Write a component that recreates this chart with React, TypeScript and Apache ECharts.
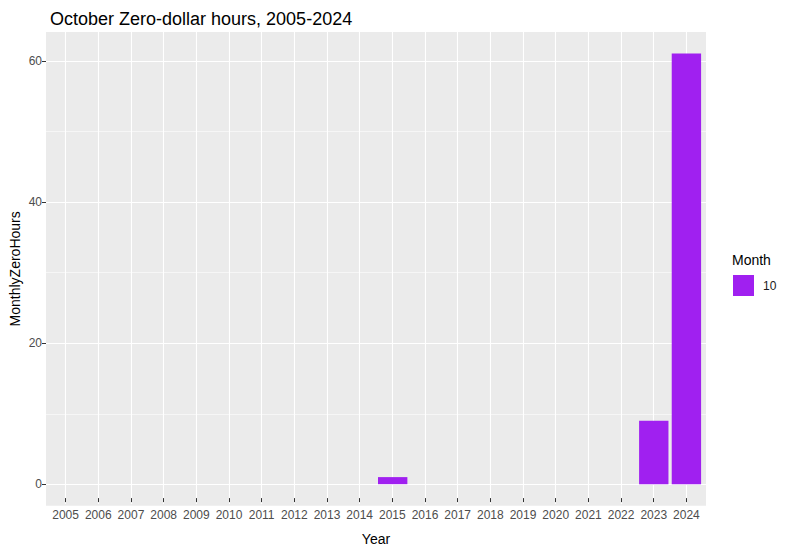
import React, { useEffect, useRef } from "react";
import * as echarts from "echarts";

const years = ["2005","2006","2007","2008","2009","2010","2011","2012","2013","2014","2015","2016","2017","2018","2019","2020","2021","2022","2023","2024"];
const zeroHours = [0,0,0,0,0,0,0,0,0,0,1,0,0,0,0,0,0,0,9,61];
const monthName = "10";
const yTicks = [0, 20, 40, 60];

const PANEL = { left: 46, right: 81, top: 32, bottom: 45.3 };
const UNIT = (787 - PANEL.left - PANEL.right) / 20.2;
const TICK_EXT = 6;
const PURPLE = "#A020F0";
const FONT = "'Liberation Sans', Arial, sans-serif";

export default function App() {
  const ref = useRef<HTMLDivElement>(null);
  useEffect(() => {
    const chart = echarts.init(ref.current!, null, { renderer: "svg" });
    const hidden = { show: false };
    const g2Height = 551 - PANEL.top - (PANEL.bottom - TICK_EXT);
    chart.setOption({
      animation: false,
      textStyle: { fontFamily: FONT },
      title: [
        { text: "October Zero-dollar hours, 2005-2024", left: 45, top: 5,
          textStyle: { fontSize: 18, fontWeight: "normal", color: "#000", fontFamily: FONT } },
        { text: "Month", left: 727, top: 248,
          textStyle: { fontSize: 14, fontWeight: "normal", color: "#000", fontFamily: FONT } },
      ],
      legend: {
        left: 728, top: 270, itemWidth: 21, itemHeight: 21, icon: "rect",
        data: [monthName],
        textStyle: { fontSize: 12, color: "#1a1a1a", fontFamily: FONT, padding: [0, 0, 0, 4] },
      },
      grid: [
        { ...PANEL, show: true, backgroundColor: "#EBEBEB", borderWidth: 0, z: -1 },
        { left: PANEL.left, right: PANEL.right, top: 61.0, bottom: 551 - 484.3 },
        { left: PANEL.left + 0.6 * UNIT, right: PANEL.right + 0.6 * UNIT, top: PANEL.top, bottom: PANEL.bottom - TICK_EXT },
        { left: PANEL.left + 0.1 * UNIT, right: PANEL.right + 0.1 * UNIT, top: PANEL.top, bottom: PANEL.bottom },
      ],
      xAxis: [
        { type: "value", gridIndex: 0, ...hidden },
        { type: "value", gridIndex: 1, ...hidden },
        { type: "category", gridIndex: 2, data: years, boundaryGap: false,
          name: "Year", nameLocation: "middle", nameGap: 28,
          nameTextStyle: { fontSize: 14, color: "#000", fontFamily: FONT },
          axisLine: { show: false, onZero: true },
          axisTick: { show: true, interval: 0, length: 4, lineStyle: { color: "#333333", width: 1 } },
          axisLabel: { interval: 0, fontSize: 12, color: "#4D4D4D", margin: 5, fontFamily: FONT },
          splitLine: { show: true, interval: 0, lineStyle: { color: "#FFFFFF", width: 1.1 } } },
        { type: "category", gridIndex: 3, data: years, boundaryGap: true, ...hidden },
      ],
      yAxis: [
        { type: "value", gridIndex: 0, ...hidden },
        { type: "value", gridIndex: 1, min: 0, max: 60, interval: 20,
          axisLine: { show: false },
          axisTick: { show: true, length: 4, lineStyle: { color: "#333333", width: 1 } },
          axisLabel: { fontSize: 12, color: "#4D4D4D", margin: 4, fontFamily: FONT,
            formatter: (v: number) => (yTicks.includes(v) ? String(v) : "") },
          splitLine: { show: true, lineStyle: { color: "#FFFFFF", width: 1.1 } },
          minorTick: { show: false, splitNumber: 2 },
          minorSplitLine: { show: true, lineStyle: { color: "#FFFFFF", width: 0.55 } } },
        { type: "value", gridIndex: 2, min: -TICK_EXT, max: g2Height - TICK_EXT, ...hidden },
        { type: "value", gridIndex: 3, min: -3.05, max: 64.05,
          name: "MonthlyZeroHours", nameLocation: "middle", nameGap: 28,
          nameTextStyle: { fontSize: 14, color: "#000", fontFamily: FONT },
          axisLine: { show: false, onZero: false }, axisTick: hidden, axisLabel: hidden, splitLine: hidden },
      ],
      series: [
        { type: "bar", name: monthName, xAxisIndex: 3, yAxisIndex: 3, data: zeroHours,
          barWidth: "90%", itemStyle: { color: PURPLE }, clip: false },
      ],
    });
    return () => chart.dispose();
  }, []);
  return <div ref={ref} style={{ width: 787, height: 551, position: "absolute", left: 0, top: 0, background: "#fff" }} />;
}
